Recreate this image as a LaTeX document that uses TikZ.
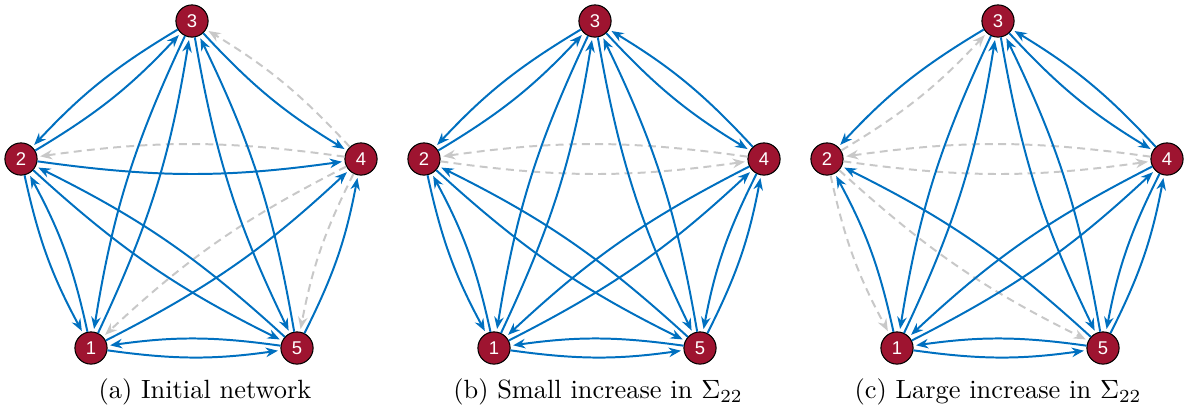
\documentclass[tikz,border=0pt]{standalone}
\usepackage{fontspec}
\usepackage{amsmath, amssymb}
\usepackage{tikz}
\usetikzlibrary{arrows.meta, positioning, calc}
\newfontfamily\nodefont{Liberation Sans}
\definecolor{netred}{RGB}{158,20,48}
\definecolor{linkblue}{RGB}{0,112,192}
\definecolor{weakgrey}{RGB}{200,200,200}

\begin{document}
\begin{tikzpicture}[x=0.379pt, y=-0.379pt,
        vertex/.style={circle, draw=black, line width=0.4pt, fill=netred, text=white,
            minimum size=12.2pt, inner sep=0pt, font={\nodefont\fontsize{7}{8}\selectfont}},
        link/.style={-{Stealth[length=4.6pt, width=3.6pt]}, line width=0.75pt, draw=linkblue,
            bend right=8, shorten >=1pt},
        weak/.style={link, draw=weakgrey, dash pattern=on 3pt off 2pt}]
        \useasboundingbox (0,0) rectangle (1186,407);
        % (a) Initial network
        \begin{scope}
            \node[vertex] (a3) at (192,21) {3};
            \node[vertex] (a2) at (21,159) {2};
            \node[vertex] (a4) at (361,159) {4};
            \node[vertex] (a1) at (91,348) {1};
            \node[vertex] (a5) at (297,348) {5};
            \foreach \s/\t in {4/1, 4/2, 4/3, 4/5}
                \draw[weak] (a\s) to (a\t);
            \foreach \s/\t in {1/2, 1/3, 1/4, 1/5, 2/1, 2/3, 2/4, 2/5, 3/1, 3/2, 3/4, 3/5, 5/1, 5/2, 5/3, 5/4}
                \draw[link] (a\s) to (a\t);
        \end{scope}
        % (b) Small increase
        \begin{scope}[shift={(403,0)}]
            \node[vertex] (b3) at (192,21) {3};
            \node[vertex] (b2) at (21,159) {2};
            \node[vertex] (b4) at (361,159) {4};
            \node[vertex] (b1) at (91,348) {1};
            \node[vertex] (b5) at (297,348) {5};
            \foreach \s/\t in {2/4, 4/2}
                \draw[weak] (b\s) to (b\t);
            \foreach \s/\t in {1/2, 1/3, 1/4, 1/5, 2/1, 2/3, 2/5, 3/1, 3/2, 3/4, 3/5, 4/1, 4/3, 4/5, 5/1, 5/2, 5/3, 5/4}
                \draw[link] (b\s) to (b\t);
        \end{scope}
        % (c) Large increase
        \begin{scope}[shift={(806,0)}]
            \node[vertex] (c3) at (192,21) {3};
            \node[vertex] (c2) at (21,159) {2};
            \node[vertex] (c4) at (361,159) {4};
            \node[vertex] (c1) at (91,348) {1};
            \node[vertex] (c5) at (297,348) {5};
            \foreach \s/\t in {2/1, 2/3, 2/4, 2/5, 4/2}
                \draw[weak] (c\s) to (c\t);
            \foreach \s/\t in {1/2, 1/3, 1/4, 1/5, 3/1, 3/2, 3/4, 3/5, 4/1, 4/3, 4/5, 5/1, 5/2, 5/3, 5/4}
                \draw[link] (c\s) to (c\t);
        \end{scope}
        % Captions
        \node (capa) at (205,392) {(a) Initial network};
        \node (capb) at (598,392) {(b) Small increase in $\Sigma_{22}$};
        \node (capc) at (998,392) {(c) Large increase in $\Sigma_{22}$};
    \end{tikzpicture}
\end{document}
